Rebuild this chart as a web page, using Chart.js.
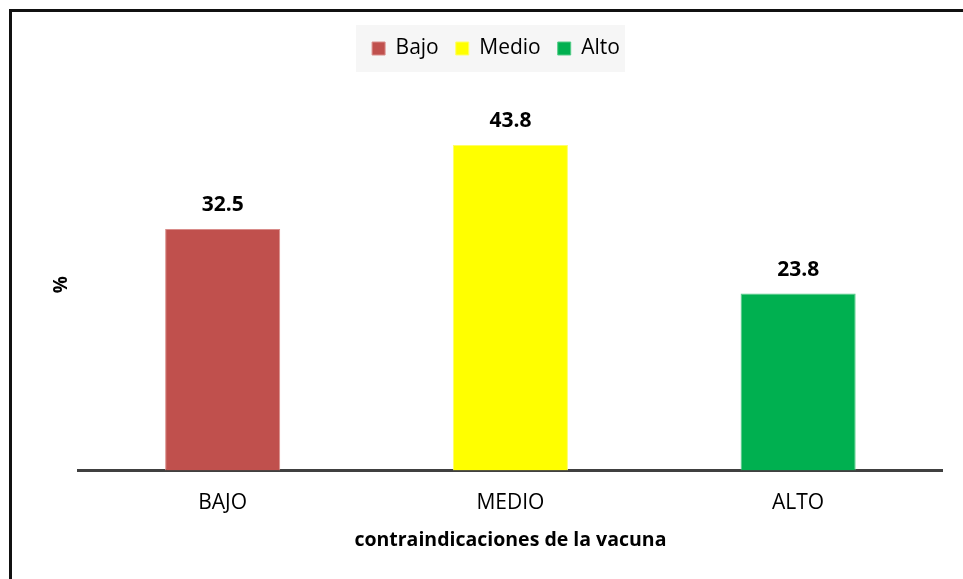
<!DOCTYPE html>
<html>
<head>
<meta charset="utf-8">
<script src="https://cdn.jsdelivr.net/npm/chart.js@4"></script>
<style>
  html, body { margin: 0; padding: 0; background: #fff; }
  #wrap { width: 963px; height: 579px; position: relative; }
</style>
</head>
<body>
<div id="wrap"><canvas id="chart" width="963" height="579"></canvas></div>
<script>
// data
const categories = ['BAJO', 'MEDIO', 'ALTO'];
const legendNames = ['Bajo', 'Medio', 'Alto'];
const values = [32.5, 43.8, 23.8];
const barColors = ['#C0504D', '#FFFF00', '#00B050'];
const edgeColors = ['#D98C8A', '#FFFF66', '#55CC88'];

const FONT = "'Open Sans', 'Noto Sans', sans-serif";

// grey box behind the legend + the frame lines on the left and top
const framePlugin = {
    id: 'frame',
    afterInit(chart) {
        // leave a gap under the legend
        const lg = chart.legend;
        const fit = lg.fit.bind(lg);
        lg.fit = function () { fit(); this.height += 30; };
    },
    beforeDraw(chart) {
        const c = chart.ctx;
        c.save();
        c.fillStyle = '#fff';
        c.fillRect(0, 0, chart.width, chart.height);
        const boxes = chart.legend.legendHitBoxes;
        if (boxes && boxes.length) {
            const first = boxes[0], last = boxes[boxes.length - 1];
            const x0 = first.left - 16, x1 = last.left + last.width + 5;
            const y0 = first.top - 13, y1 = first.top + first.height + 13;
            c.fillStyle = '#F6F6F6';
            c.fillRect(x0, y0, x1 - x0, y1 - y0);
        }
        c.strokeStyle = '#111';
        c.lineWidth = 3;
        c.beginPath();
        c.moveTo(10.5, chart.height);
        c.lineTo(10.5, 10.5);
        c.lineTo(chart.width, 10.5);
        c.stroke();
        c.restore();
    }
};

// value labels above the bars
const valueLabels = {
    id: 'valueLabels',
    afterDatasetsDraw(chart) {
        const c = chart.ctx;
        const meta = chart.getDatasetMeta(0);
        c.save();
        c.font = 'bold 21px ' + FONT;
        c.fillStyle = '#000';
        c.textAlign = 'center';
        c.textBaseline = 'middle';
        meta.data.forEach((bar, i) => {
            c.fillText(values[i].toFixed(1), bar.x, bar.y - 24);
        });
        c.restore();
    }
};

new Chart(document.getElementById('chart'), {
    type: 'bar',
    data: {
        labels: categories,
        datasets: [{
            data: values,
            backgroundColor: barColors,
            borderColor: edgeColors,
            borderWidth: { left: 1, right: 1, top: 1, bottom: 0 },
            categoryPercentage: 1,
            barPercentage: 0.4
        }]
    },
    options: {
        responsive: false,
        animation: false,
        layout: { padding: { left: 50, right: 21, top: 21, bottom: 27 } },
        plugins: {
            tooltip: { enabled: false },
            legend: {
                position: 'top',
                labels: {
                    font: { family: FONT, size: 21 },
                    color: '#000',
                    boxWidth: 13,
                    boxHeight: 13,
                    padding: 17,
                    generateLabels: () => legendNames.map((n, i) => ({
                        text: n,
                        fillStyle: barColors[i],
                        strokeStyle: edgeColors[i],
                        lineWidth: 1,
                        index: i
                    }))
                }
            }
        },
        scales: {
            x: {
                grid: { display: false, drawTicks: false },
                border: { display: true, color: '#404040', width: 3 },
                ticks: { color: '#000', padding: 20, font: { family: FONT, size: 21 } },
                title: {
                    display: true,
                    text: 'contraindicaciones de la vacuna',
                    color: '#000',
                    font: { family: FONT, size: 19.5, weight: 'bold' },
                    padding: { top: -7, bottom: 0 }
                }
            },
            y: {
                min: 0,
                max: 50,
                grid: { display: false, drawTicks: false },
                border: { display: false },
                ticks: { display: false },
                title: {
                    display: true,
                    text: '%',
                    color: '#000',
                    font: { family: FONT, size: 19, weight: 'bold' },
                    padding: { top: 0, bottom: 6 }
                }
            }
        }
    },
    plugins: [framePlugin, valueLabels]
});
</script>
</body>
</html>
